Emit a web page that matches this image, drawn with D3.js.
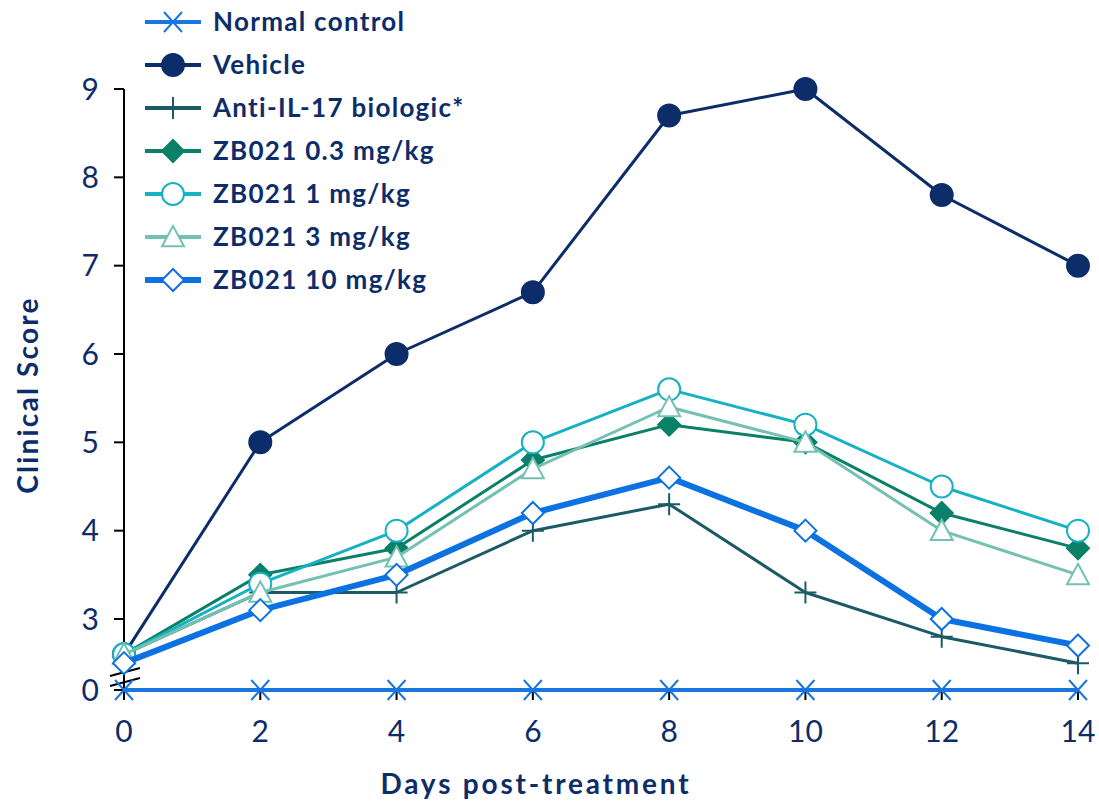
<!DOCTYPE html>
<html>
<head>
<meta charset="utf-8">
<script src="https://cdn.jsdelivr.net/npm/d3@7"></script>
<style>
  html, body { margin: 0; padding: 0; background: #ffffff; }
  svg { display: block; font-family: "Lato", "Noto Sans", sans-serif; }
</style>
</head>
<body>
<svg id="chart" width="1099" height="802"></svg>
<script>
// Clinical score by day after treatment
const days = [0, 2, 4, 6, 8, 10, 12, 14];
const seriesNames = [
  "Normal control", "Vehicle", "Anti-IL-17 biologic*",
  "ZB021 0.3 mg/kg", "ZB021 1 mg/kg", "ZB021 3 mg/kg", "ZB021 10 mg/kg"
];
const normalControl = [0, 0, 0, 0, 0, 0, 0, 0];
const vehicle       = [2.6, 5.0, 6.0, 6.7, 8.7, 9.0, 7.8, 7.0];
const antiIL17      = [2.6, 3.3, 3.3, 4.0, 4.3, 3.3, 2.8, 2.5];
const zb021_03      = [2.6, 3.5, 3.8, 4.8, 5.2, 5.0, 4.2, 3.8];
const zb021_1       = [2.6, 3.4, 4.0, 5.0, 5.6, 5.2, 4.5, 4.0];
const zb021_3       = [2.6, 3.3, 3.7, 4.7, 5.4, 5.0, 4.0, 3.5];
const zb021_10      = [2.5, 3.1, 3.5, 4.2, 4.6, 4.0, 3.0, 2.7];
const yTicksUpper = [3, 4, 5, 6, 7, 8, 9];
const yTicksLower = [0];
const xTicks = [0, 2, 4, 6, 8, 10, 12, 14];

const seriesValues = [normalControl, vehicle, antiIL17, zb021_03, zb021_1, zb021_3, zb021_10];
const styles = [
  { color: "#1976e0", width: 4, marker: "cross", fill: "none" },
  { color: "#0c2d69", width: 3, marker: "circle", fill: "#0c2d69" },
  { color: "#1c5a66", width: 3, marker: "plus", fill: "none" },
  { color: "#0a8068", width: 3, marker: "diamond", fill: "#0a8068" },
  { color: "#16b1c2", width: 3, marker: "circle", fill: "#ffffff" },
  { color: "#74c1b2", width: 3, marker: "triangle", fill: "#ffffff" },
  { color: "#0c72e2", width: 6, marker: "diamond", fill: "#ffffff" }
];
const textColor = "#0c2d69";

const svg = d3.select("#chart");
const left = 124, right = 1078;
const x = d3.scaleLinear().domain([0, 14]).range([left, right]);
// Broken y axis: 3–9 segment above, 0 segment below the break
const yUpper = d3.scaleLinear().domain([3, 9]).range([619, 89]);
const yLower = d3.scaleLinear().domain([0, 1]).range([690, 601]);
const y = v => v >= 2 ? yUpper(v) : yLower(v);

// y axis
const axisG = svg.append("g").attr("stroke", "#000").attr("stroke-width", 2);
axisG.append("line").attr("x1", left).attr("x2", left).attr("y1", yUpper(9)).attr("y2", yLower(0));
yTicksUpper.concat(yTicksLower).forEach(t => {
  axisG.append("line").attr("x1", left - 10).attr("x2", left).attr("y1", y(t)).attr("y2", y(t));
});
// break marks
const bk = yLower(0);
[-21, -11].forEach(off => {
  svg.append("line").attr("x1", left - 14).attr("x2", left + 16)
    .attr("y1", bk + off + 7).attr("y2", bk + off - 1)
    .attr("stroke", "#000").attr("stroke-width", 2);
});
// x axis
axisG.append("line").attr("x1", left).attr("x2", right).attr("y1", yLower(0)).attr("y2", yLower(0));
xTicks.forEach(t => {
  axisG.append("line").attr("x1", x(t)).attr("x2", x(t)).attr("y1", yLower(0)).attr("y2", yLower(0) + 10);
});

// tick labels
svg.append("g").selectAll("text").data(yTicksUpper.concat(yTicksLower)).join("text")
  .attr("x", 99).attr("y", d => y(d)).attr("dy", "0.36em")
  .attr("text-anchor", "end").attr("font-size", 30).attr("fill", textColor)
  .text(d => d);
svg.append("g").selectAll("text").data(xTicks).join("text")
  .attr("x", d => x(d)).attr("y", 742)
  .attr("text-anchor", "middle").attr("font-size", 30).attr("fill", textColor)
  .text(d => d);

// axis titles
svg.append("text").attr("x", 536).attr("y", 794).attr("text-anchor", "middle")
  .attr("font-size", 28).attr("font-weight", 700).attr("letter-spacing", 2.8).attr("fill", textColor)
  .text("Days post-treatment");
svg.append("text").attr("transform", "translate(38,395) rotate(-90)")
  .attr("text-anchor", "middle").attr("font-size", 28).attr("font-weight", 700)
  .attr("letter-spacing", 2.2).attr("fill", textColor)
  .text("Clinical Score");

function drawMarker(g, st, cx, cy) {
  const s = 11;
  if (st.marker === "circle") {
    g.append("circle").attr("cx", cx).attr("cy", cy).attr("r", s)
      .attr("fill", st.fill).attr("stroke", st.color).attr("stroke-width", 2);
  } else if (st.marker === "diamond") {
    g.append("path").attr("d", `M${cx},${cy - s}L${cx + s},${cy}L${cx},${cy + s}L${cx - s},${cy}Z`)
      .attr("fill", st.fill).attr("stroke", st.color).attr("stroke-width", 2);
  } else if (st.marker === "triangle") {
    g.append("path").attr("d", `M${cx},${cy - s}L${cx + s},${cy + s * 0.85}L${cx - s},${cy + s * 0.85}Z`)
      .attr("fill", st.fill).attr("stroke", st.color).attr("stroke-width", 2);
  } else if (st.marker === "plus") {
    g.append("path").attr("d", `M${cx - 11},${cy}H${cx + 11}M${cx},${cy - 11}V${cy + 11}`)
      .attr("stroke", st.color).attr("stroke-width", 2).attr("fill", "none");
  } else if (st.marker === "cross") {
    g.append("path").attr("d", `M${cx - 9},${cy - 10}L${cx + 9},${cy + 10}M${cx - 9},${cy + 10}L${cx + 9},${cy - 10}`)
      .attr("stroke", st.color).attr("stroke-width", 2).attr("fill", "none");
  }
}

// series lines and markers
const line = d3.line().x((d, i) => x(days[i])).y(d => y(d));
seriesValues.forEach((vals, k) => {
  const st = styles[k];
  const g = svg.append("g");
  g.append("path").attr("d", line(vals)).attr("fill", "none")
    .attr("stroke", st.color).attr("stroke-width", st.width).attr("stroke-linejoin", "round");
  vals.forEach((v, i) => drawMarker(g, st, x(days[i]), y(v)));
});

// legend
const legend = svg.append("g");
seriesNames.forEach((name, k) => {
  const st = styles[k];
  const ly = 22 + k * 43;
  const g = legend.append("g");
  g.append("line").attr("x1", 145).attr("x2", 201).attr("y1", ly).attr("y2", ly)
    .attr("stroke", st.color).attr("stroke-width", st.width === 6 ? 6 : 4);
  drawMarker(g, st, 173, ly);
  g.append("text").attr("x", 213).attr("y", ly).attr("dy", "0.36em")
    .attr("font-size", 26).attr("font-weight", 700).attr("letter-spacing", 1.3)
    .attr("fill", textColor).text(name);
});
</script>
</body>
</html>
